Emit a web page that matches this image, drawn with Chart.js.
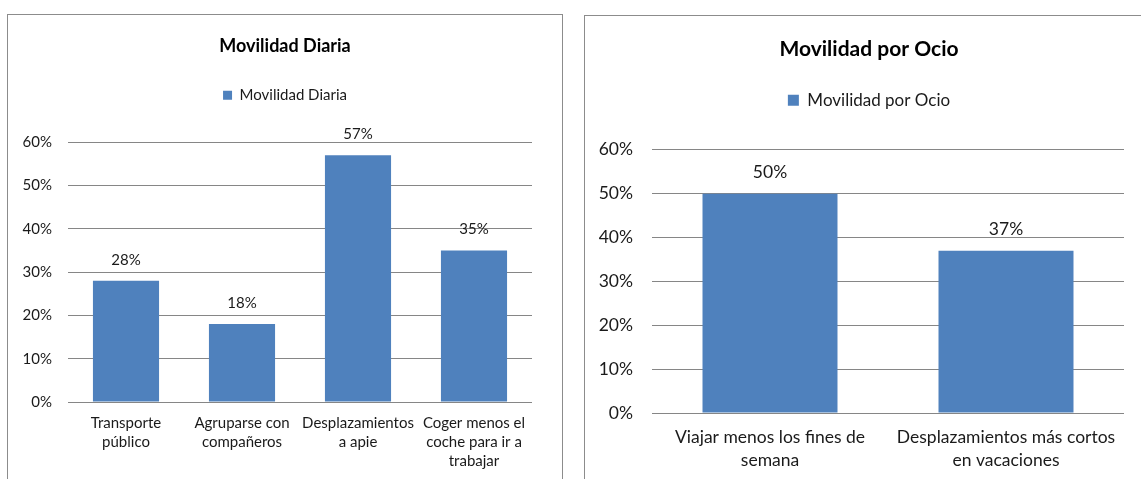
<!DOCTYPE html>
<html>
<head>
<meta charset="utf-8">
<script src="https://cdn.jsdelivr.net/npm/chart.js@4.4.1/dist/chart.umd.min.js"></script>
<style>
  body { margin: 0; background: #fff; width: 1141px; height: 479px; overflow: hidden; position: relative; }
  .frame { position: absolute; border: 1.5px solid #8c8c8c; box-sizing: border-box; background: #fff; }
  canvas { position: absolute; }
</style>
</head>
<body>
<div class="frame" style="left:7px; top:14px; width:556px; height:480px;"></div>
<div class="frame" style="left:584px; top:15px; width:580px; height:480px;"></div>
<canvas id="diaria" width="552" height="463" style="left:9px; top:16px;"></canvas>
<canvas id="ocio" width="566" height="462" style="left:586px; top:17px;"></canvas>
<script>
// Data
const diariaLabels = [['Transporte', 'público'], ['Agruparse con', 'compañeros'], ['Desplazamientos', 'a apie'], ['Coger menos el', 'coche para ir a', 'trabajar']];
const diariaValues = [28, 18, 57, 35];
const ocioLabels = [['Viajar menos los fines de', 'semana'], ['Desplazamientos más cortos', 'en vacaciones']];
const ocioValues = [50, 37];
const yMin = 0, yMax = 60, yStep = 10;

const barColor = '#4F81BD';
const gridColor = '#868686';
const textColor = '#1a1a1a';
const fontFamily = 'Lato, "Liberation Sans", sans-serif';

// Draws the value above each bar
const valueLabels = {
    id: 'valueLabels',
    afterDatasetsDraw(chart, args, opts) {
        const ctx = chart.ctx;
        const values = chart.data.datasets[0].data;
        chart.getDatasetMeta(0).data.forEach((bar, i) => {
            ctx.save();
            ctx.font = opts.size + 'px ' + fontFamily;
            ctx.fillStyle = textColor;
            ctx.textAlign = 'center';
            ctx.textBaseline = 'middle';
            ctx.fillText(values[i] + '%', bar.x, bar.y - opts.offset);
            ctx.restore();
        });
    }
};

function makeChart(id, title, labels, values, s) {
    const ctx = document.getElementById(id).getContext('2d');
    return new Chart(ctx, {
        type: 'bar',
        data: {
            labels: labels,
            datasets: [{
                label: title,
                data: values,
                backgroundColor: barColor,
                borderWidth: 0,
                categoryPercentage: 1,
                barPercentage: s.barPct
            }]
        },
        plugins: [valueLabels],
        options: {
            responsive: false,
            animation: false,
            devicePixelRatio: 1,
            layout: { padding: 0 },
            scales: {
                x: {
                    grid: { display: false, drawTicks: false },
                    border: { display: false },
                    ticks: {
                        color: textColor,
                        padding: s.xPad,
                        maxRotation: 0,
                        autoSkip: false,
                        font: { family: fontFamily, size: s.tickSize, lineHeight: s.xLine }
                    },
                    afterFit: function (scale) { scale.height = s.xHeight; }
                },
                y: {
                    min: yMin,
                    max: yMax,
                    grid: { color: gridColor, lineWidth: 1, drawTicks: false },
                    border: { display: false },
                    ticks: {
                        stepSize: yStep,
                        color: textColor,
                        padding: s.yPad,
                        font: { family: fontFamily, size: s.tickSize },
                        callback: function (v) { return v + '%'; }
                    },
                    afterFit: function (scale) { scale.width = s.yWidth; }
                },
                // empty right axis, only keeps space between plot and frame
                yRight: {
                    position: 'right',
                    min: yMin,
                    max: yMax,
                    grid: { display: false, drawTicks: false },
                    border: { display: false },
                    ticks: { display: false },
                    afterFit: function (scale) { scale.width = s.rightGap; }
                }
            },
            plugins: {
                title: {
                    display: true,
                    text: title,
                    color: '#000',
                    font: { family: fontFamily, size: s.titleSize, weight: 'bold', lineHeight: 1.2 },
                    padding: { top: s.titleTop, bottom: s.titleBottom }
                },
                legend: {
                    display: true,
                    position: 'top',
                    labels: {
                        color: textColor,
                        boxWidth: s.box,
                        boxHeight: s.box,
                        padding: 10,
                        font: { family: fontFamily, size: s.legendSize }
                    }
                },
                // empty subtitle used as spacer between legend and plot
                subtitle: {
                    display: true,
                    text: ' ',
                    position: 'top',
                    weight: 500,
                    font: { size: 1, lineHeight: 1 },
                    padding: { top: 0, bottom: s.gap }
                },
                tooltip: { enabled: false },
                valueLabels: { size: s.tickSize, offset: 21 }
            }
        }
    });
}

makeChart('diaria', 'Movilidad Diaria', diariaLabels, diariaValues, {
    barPct: 0.57, rightGap: 29, xPad: 11, xLine: 1.29, xHeight: 77, yPad: 16, yWidth: 59,
    tickSize: 15, titleSize: 18, titleTop: 19.2, titleBottom: 21, box: 9, legendSize: 15, gap: 28.5
});

makeChart('ocio', 'Movilidad por Ocio', ocioLabels, ocioValues, {
    barPct: 0.572, rightGap: 28, xPad: 12.5, xLine: 1.31, xHeight: 66, yPad: 19, yWidth: 66,
    tickSize: 17.5, titleSize: 21, titleTop: 19.4, titleBottom: 20.2, box: 11, legendSize: 17, gap: 30
});
</script>
</body>
</html>
